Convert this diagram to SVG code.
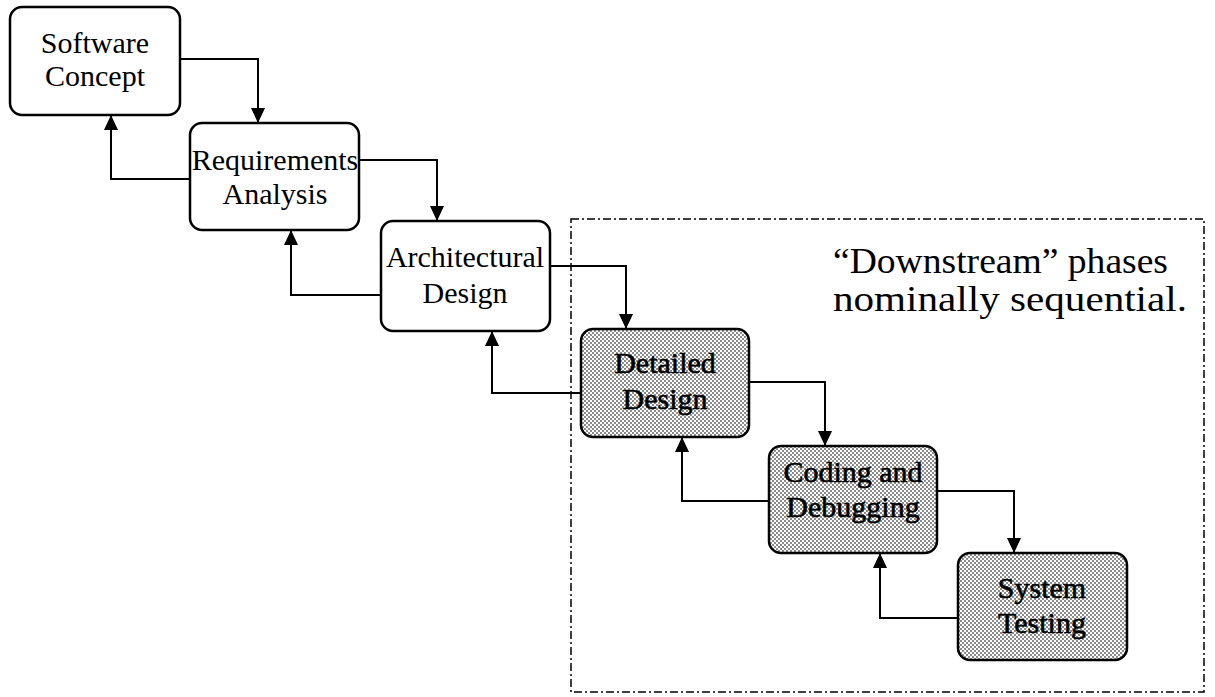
<svg xmlns="http://www.w3.org/2000/svg" width="1215" height="697" viewBox="0 0 1215 697">
<style>
.box{fill:#fff;stroke:#000;stroke-width:2.5}
.shade{fill:url(#dots);stroke:#000;stroke-width:2.5}
.lbl{font-family:"Liberation Serif","Times New Roman",serif;font-size:30px;text-anchor:middle;fill:#000}
.dark{stroke:#000;stroke-width:0.6}
.conn{fill:none;stroke:#000;stroke-width:2;marker-end:url(#ah)}
.region{fill:none;stroke:#000;stroke-width:1.5;stroke-dasharray:8 3 2 3}
.note{font-family:"Liberation Serif","Times New Roman",serif;font-size:36px;fill:#000}
</style>
<defs>
<pattern id="dots" width="4" height="4" patternUnits="userSpaceOnUse">
<rect width="4" height="4" fill="#fff"/>
<circle cx="1" cy="1" r="0.9" fill="#555"/>
<circle cx="3" cy="3" r="0.9" fill="#555"/>
</pattern>
<marker id="ah" viewBox="0 0 15 14" refX="15" refY="7" markerWidth="15" markerHeight="14" markerUnits="userSpaceOnUse" orient="auto">
<path d="M0,0 L15,7 L0,14 z" fill="#000"/>
</marker>
</defs>
<rect width="1215" height="697" fill="#fff"/>
<g id="region">
<rect class="region" x="571" y="219" width="633" height="473"/>
<text class="note" x="833" y="273" textLength="335" lengthAdjust="spacingAndGlyphs">“Downstream” phases</text>
<text class="note" x="833" y="311" textLength="354" lengthAdjust="spacingAndGlyphs">nominally sequential.</text>
</g>
<g id="connectors">
<path class="conn" d="M180,59 H258 V123"/>
<path class="conn" d="M190,179 H111 V115"/>
<path class="conn" d="M359,160 H437 V221"/>
<path class="conn" d="M381,295 H291 V230"/>
<path class="conn" d="M550,266 H626 V329"/>
<path class="conn" d="M581,393 H492 V331"/>
<path class="conn" d="M749,382 H825 V446"/>
<path class="conn" d="M769,501 H682 V437"/>
<path class="conn" d="M937,491 H1014 V553"/>
<path class="conn" d="M958,618 H880 V553"/>
</g>
<g id="software-concept">
<rect class="box" x="10" y="7" width="170" height="108" rx="12"/>
<text class="lbl" x="95" y="53">Software</text>
<text class="lbl" x="95" y="86">Concept</text>
</g>
<g id="requirements-analysis">
<rect class="box" x="190" y="123" width="169" height="107" rx="12"/>
<text class="lbl" x="275" y="170">Requirements</text>
<text class="lbl" x="275" y="204">Analysis</text>
</g>
<g id="architectural-design">
<rect class="box" x="381" y="221" width="169" height="110" rx="12"/>
<text class="lbl" x="465" y="267">Architectural</text>
<text class="lbl" x="465" y="303">Design</text>
</g>
<g id="detailed-design">
<rect class="shade" x="581" y="329" width="168" height="108" rx="12"/>
<text class="lbl dark" x="665" y="373">Detailed</text>
<text class="lbl dark" x="665" y="409">Design</text>
</g>
<g id="coding-debugging">
<rect class="shade" x="769" y="446" width="168" height="107" rx="12"/>
<text class="lbl dark" x="853" y="482">Coding and</text>
<text class="lbl dark" x="853" y="517">Debugging</text>
</g>
<g id="system-testing">
<rect class="shade" x="958" y="553" width="169" height="107" rx="12"/>
<text class="lbl dark" x="1042" y="598">System</text>
<text class="lbl dark" x="1042" y="633">Testing</text>
</g>
</svg>
